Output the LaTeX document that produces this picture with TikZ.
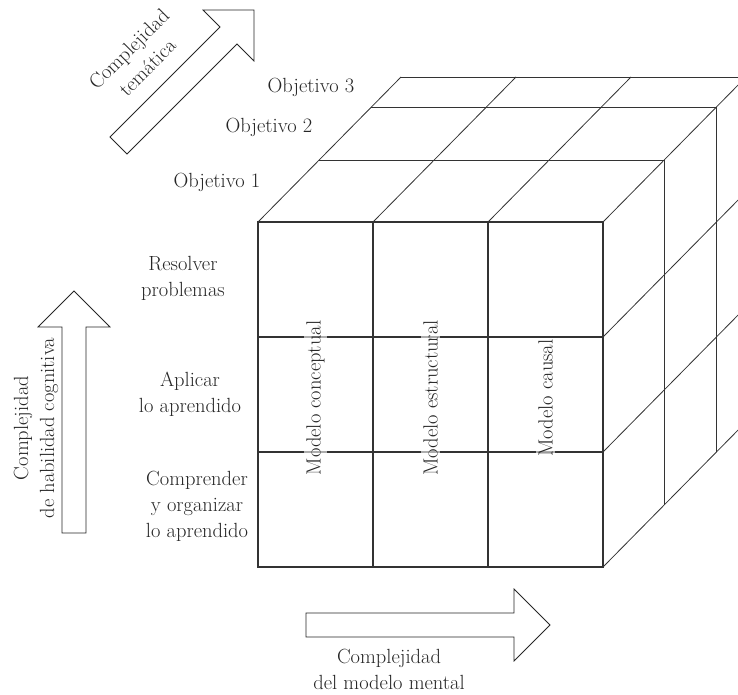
\documentclass[tikz,border=0pt]{standalone}
\usepackage{tikz}

\begin{document}
\begin{tikzpicture}[
  x=1pt, y=-1pt,
  front/.style={draw=black!80, line width=1.1pt},
  back/.style={draw=black!80, line width=0.8pt},
  blockarrow/.style={draw=black!85, line width=0.8pt, line join=miter},
  lbl/.style={font=\fontsize{20.5}{26}\selectfont, text=black!85, inner sep=1pt},
  mlbl/.style={lbl, rotate=90, fill=white, fill opacity=0.6, text opacity=1, inner sep=2pt}
]
  \useasboundingbox (0,0) rectangle (738,694);
  \clip (0,0) rectangle (738,694);

  % top face
  \draw[back] (258,222) -- (401,77);
  \draw[back] (373,222) -- (516,77);
  \draw[back] (488,222) -- (631,77);
  \draw[back] (603,222) -- (746,77);
  \draw[back] (319,160) -- (664,160);
  \draw[back] (371,107) -- (716,107);
  \draw[back] (401,77) -- (746,77);

  % side face
  \draw[back] (603,337) -- (746,192);
  \draw[back] (603,452) -- (746,307);
  \draw[back] (603,567) -- (746,422);
  \draw[back] (664,160) -- (664,505);
  \draw[back] (716,107) -- (716,452);

  % front face
  \draw[front] (258,222) rectangle (603,567);
  \draw[front] (373,222) -- (373,567);
  \draw[front] (488,222) -- (488,567);
  \draw[front] (258,337) -- (603,337);
  \draw[front] (258,452) -- (603,452);

  % mental models
  \node[mlbl] (conc) at (315.5,398) {Modelo conceptual};
  \node[mlbl] (estr) at (430.5,398) {Modelo estructural};
  \node[mlbl] (caus) at (545.5,398) {Modelo causal};

  % objectives
  \node[lbl, anchor=base] (obj1) at (217,187) {Objetivo 1};
  \node[lbl, anchor=base] (obj2) at (269,132) {Objetivo 2};
  \node[lbl, anchor=base] (obj3) at (311,92) {Objetivo 3};

  % cognitive skills
  \node[lbl, align=center] (resolver) at (183,278) {Resolver\\problemas};
  \node[lbl, align=center] (aplicar) at (190,394) {Aplicar\\lo aprendido};
  \node[lbl, align=center] (comprender) at (197,506) {Comprender\\y organizar\\lo aprendido};

  % arrows
  \draw[blockarrow] (110,137) -- (220,27) -- (203,10) -- (254,10)
    -- (254,61) -- (237,44) -- (127,154) -- cycle;
  \draw[blockarrow] (62,533) -- (62,327) -- (38,327) -- (74,291)
    -- (110,327) -- (86,327) -- (86,533) -- cycle;
  \draw[blockarrow] (306,613) -- (514,613) -- (514,589) -- (550,625)
    -- (514,661) -- (514,637) -- (306,637) -- cycle;

  % arrow labels
  \node[lbl, rotate=45, align=center] (tema) at (138,58) {Complejidad\\temática};
  \node[lbl, rotate=90, align=center] (cogn) at (36,428) {Complejidad\\de habilidad cognitiva};
  \node[lbl, align=center, inner sep=0pt] (mental) at (389,669) {Complejidad\\del modelo mental};

\end{tikzpicture}
\end{document}
